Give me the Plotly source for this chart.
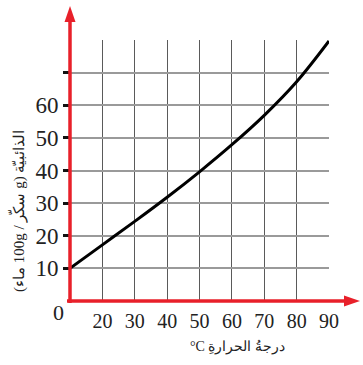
import plotly.graph_objects as go

temps = [10, 20, 30, 40, 50, 60, 70, 80, 90]
solubility = [10, 17.2, 24.4, 31.8, 39.6, 47.9, 56.9, 67.2, 79.7]
x_ticks = [20, 30, 40, 50, 60, 70, 80, 90]
y_ticks = [10, 20, 30, 40, 50, 60, 70]
y_ticktext = ["10", "20", "30", "40", "50", "60", ""]

L, R, T, B = 70, 34, 40, 64
W, H = 363, 365
pw, ph = W - L - R, H - T - B
SERIF = "Liberation Serif, Times New Roman, Times, serif"

def px(xp):
    return (xp - L) / pw

def py(yp):
    return (H - B - yp) / ph

fig = go.Figure()
fig.add_trace(go.Scatter(x=temps, y=solubility, mode="lines",
                         line=dict(color="black", width=3, shape="spline", smoothing=1.0),
                         cliponaxis=False, hoverinfo="skip"))

LRM = "\u200e"
ytitle = "(ماء" + LRM + " 100g / " + "سكّر" + LRM + " g) " + "الذائبيّة"
xtitle = "°C " + "درجةُ الحرارةِ"

shapes = []
red = "#e8202a"
shapes.append(dict(type="line", xref="paper", yref="paper", x0=px(70), x1=px(70),
                   y0=py(303), y1=py(18), line=dict(color=red, width=3.5), layer="above"))
shapes.append(dict(type="line", xref="paper", yref="paper", x0=px(67), x1=px(348),
                   y0=py(301), y1=py(301), line=dict(color=red, width=3.5), layer="above"))
shapes.append(dict(type="path", xref="paper", yref="paper",
                   path=f"M {px(70)} {py(6)} L {px(64.5)} {py(22)} L {px(75.5)} {py(22)} Z",
                   fillcolor=red, line=dict(color=red, width=0), layer="above"))
shapes.append(dict(type="path", xref="paper", yref="paper",
                   path=f"M {px(360)} {py(301)} L {px(344)} {py(295.5)} L {px(344)} {py(306.5)} Z",
                   fillcolor=red, line=dict(color=red, width=0), layer="above"))

annotations = [
    dict(text="0", xref="paper", yref="paper", x=px(58), y=py(312), showarrow=False,
         font=dict(family=SERIF, size=22, color="#222"), xanchor="center", yanchor="middle"),
    dict(text=xtitle, xref="paper", yref="paper", x=px(237), y=py(347), showarrow=False,
         font=dict(family=SERIF, size=14, color="#222"), xanchor="center", yanchor="middle"),
    dict(text=ytitle, xref="paper", yref="paper", x=px(17), y=py(211), showarrow=False,
         textangle=-90, font=dict(family=SERIF, size=15, color="#222"),
         xanchor="center", yanchor="middle"),
]

fig.update_layout(
    width=W, height=H, margin=dict(l=L, r=R, t=T, b=B),
    paper_bgcolor="white", plot_bgcolor="white", showlegend=False,
    shapes=shapes, annotations=annotations,
    xaxis=dict(range=[10, 90], tickvals=x_ticks, ticks="", showline=False, zeroline=False,
               showgrid=True, gridcolor="#5a5a5a", gridwidth=1.3,
               tickfont=dict(family=SERIF, size=20, color="#222"),
               ticklabelstandoff=6,
               minor=dict(tickvals=[10, 90], showgrid=True, gridcolor="#5a5a5a", gridwidth=1.3)),
    yaxis=dict(range=[0, 80], tickvals=y_ticks, ticktext=y_ticktext, ticks="outside",
               ticklen=6, tickwidth=3, tickcolor="#111", showline=False, zeroline=False,
               showgrid=True, gridcolor="#9a9a9a", gridwidth=2,
               tickfont=dict(family=SERIF, size=23, color="#222"),
               ticklabelstandoff=0,
               minor=dict(tickvals=[80], showgrid=True, gridcolor="#8a8a8a", gridwidth=1.3)),
)
fig.write_html("out.html")
